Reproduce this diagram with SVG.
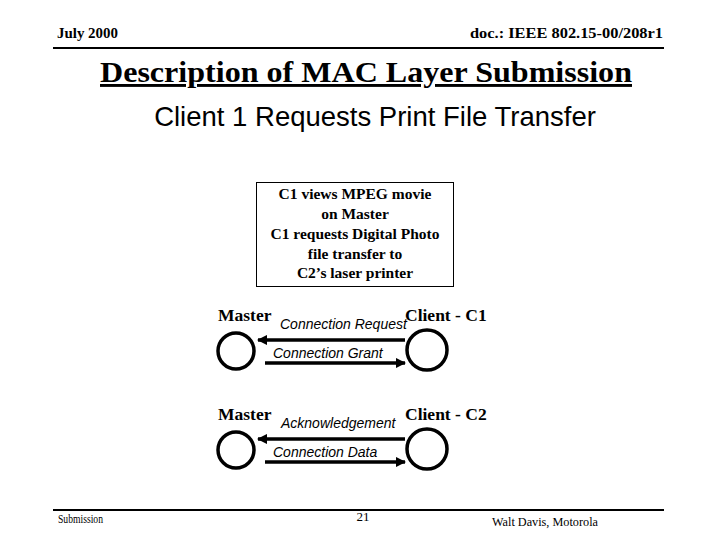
<svg xmlns="http://www.w3.org/2000/svg" width="720" height="540" viewBox="0 0 720 540">
<style>
.hdr{font-family:"Liberation Serif",serif;font-weight:bold;font-size:14px;fill:#000}
.ftr{font-family:"Liberation Serif",serif;font-size:13px;fill:#000}
.title{font-family:"Liberation Serif",serif;font-weight:bold;font-size:29px;fill:#000;text-decoration:underline}
.sub{font-family:"Liberation Sans",Arial,sans-serif;font-size:27.5px;fill:#000}
.box{font-family:"Liberation Serif",serif;font-weight:bold;font-size:15.5px;fill:#000}
.lbl{font-family:"Liberation Serif",serif;font-weight:bold;font-size:17.5px;fill:#000}
.msg{font-family:"Liberation Sans",Arial,sans-serif;font-style:italic;font-size:14px;fill:#000}
.node{fill:none;stroke:#000;stroke-width:3.5}
.arr{stroke:#000;stroke-width:3.5;fill:none;marker-end:url(#ah)}
</style>
<defs>
<marker id="ah" viewBox="0 0 10 10" refX="9" refY="5" markerWidth="3" markerHeight="3" orient="auto" markerUnits="strokeWidth">
<path d="M0,0 L10,5 L0,10 z" fill="#000"/>
</marker>
</defs>
<rect width="720" height="540" fill="#fff"/>
<g id="header">
<text class="hdr" x="57" y="38" textLength="61" lengthAdjust="spacingAndGlyphs">July 2000</text>
<text class="hdr" x="663" y="38" text-anchor="end" textLength="193" lengthAdjust="spacingAndGlyphs">doc.: IEEE 802.15-00/208r1</text>
<line x1="53" y1="48" x2="664" y2="48" stroke="#000" stroke-width="2"/>
</g>
<text class="title" x="100" y="82" textLength="532" lengthAdjust="spacingAndGlyphs">Description of MAC Layer Submission</text>
<text class="sub" x="375" y="126" text-anchor="middle">Client 1 Requests Print File Transfer</text>
<g id="info-box">
<rect x="256.5" y="182.5" width="197" height="104" fill="#fff" stroke="#000" stroke-width="1"/>
<text class="box" x="355" y="199" text-anchor="middle">C1 views MPEG movie</text>
<text class="box" x="355" y="219" text-anchor="middle">on Master</text>
<text class="box" x="355" y="239" text-anchor="middle">C1 requests Digital Photo</text>
<text class="box" x="355" y="259" text-anchor="middle">file transfer to</text>
<text class="box" x="355" y="278" text-anchor="middle">C2’s laser printer</text>
</g>
<g id="master1">
<text class="lbl" x="218" y="321">Master</text>
<circle class="node" cx="236" cy="351" r="18"/>
</g>
<g id="client1">
<text class="lbl" x="405" y="321">Client - C1</text>
<circle class="node" cx="427" cy="350" r="20"/>
</g>
<g id="master2">
<text class="lbl" x="218" y="420">Master</text>
<circle class="node" cx="236" cy="450" r="18"/>
</g>
<g id="client2">
<text class="lbl" x="405" y="420">Client - C2</text>
<circle class="node" cx="427" cy="449" r="20"/>
</g>
<g id="connectors">
<line class="arr" x1="405" y1="340" x2="258" y2="340"/>
<line class="arr" x1="265" y1="363" x2="405" y2="363"/>
<line class="arr" x1="405" y1="439" x2="258" y2="439"/>
<line class="arr" x1="265" y1="462" x2="405" y2="462"/>
<text class="msg" x="280" y="329">Connection Request</text>
<text class="msg" x="273" y="358">Connection Grant</text>
<text class="msg" x="281" y="428">Acknowledgement</text>
<text class="msg" x="273" y="457">Connection Data</text>
</g>
<g id="footer">
<line x1="53" y1="510" x2="664" y2="510" stroke="#000" stroke-width="2"/>
<text class="ftr" x="58" y="523" textLength="45" lengthAdjust="spacingAndGlyphs">Submission</text>
<text class="ftr" x="363" y="521" text-anchor="middle">21</text>
<text class="ftr" x="492" y="526" textLength="106" lengthAdjust="spacingAndGlyphs">Walt Davis, Motorola</text>
</g>
</svg>
